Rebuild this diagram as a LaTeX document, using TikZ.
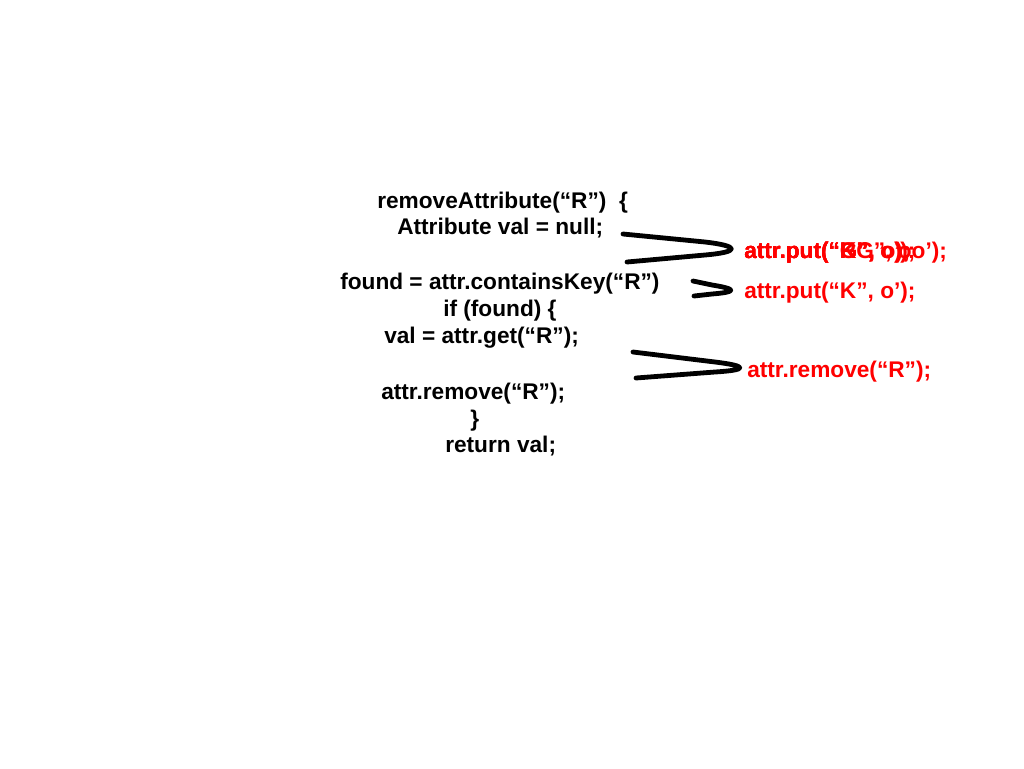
\documentclass[tikz,border=0pt]{standalone}
\usepackage{fontspec}
\setmainfont{Liberation Sans}
\usepackage{xcolor}
\tikzset{code/.style={font=\fontsize{17}{20}\selectfont\bfseries,inner sep=0pt,anchor=base west},
  newcode/.style={code,text=red},
  pinch/.style={line width=3.6pt,line cap=round,line join=round}}

\begin{document}
\begin{tikzpicture}[x=0.75pt,y=-0.75pt]
\useasboundingbox (0,0) rectangle (1024,768);
\node[code] (l1) at (377,208) {removeAttribute(“R”) \ \{};
\node[code] (l2) at (397,234) {Attribute val = null;};
\node[code] (l3) at (340,289) {found = attr.containsKey(“R”)};
\node[code] (l4) at (443,316) {if (found) \{};
\node[code] (l5) at (384,343) {val = attr.get(“R”);};
\node[code] (l6) at (381,399) {attr.remove(“R”);};
\node[code] (l7) at (470,426) {\}};
\node[code] (l8) at (445,452) {return val;};
\node[newcode] (p1) at (744,258) {attr.put(“R”, o);};
\node[newcode] (p2) at (744,258) {attr.put(“G”, o);};
\node[newcode] (p3) at (744,258) {attr.put(“K”, o’);};
\node[newcode] (p4) at (744,258) {attr.put(“KG”, oo’);};
\node[newcode] (p5) at (744,298) {attr.put(“K”, o’);};
\node[newcode] (p6) at (747,377) {attr.remove(“R”);};
\draw[pinch] (623,234) -- (705,242) .. controls (740,246) and (740,252) .. (705,255) -- (627,262);
\draw[pinch] (693,281) -- (712,285) .. controls (737,289) and (737,292) .. (712,294) -- (694,296);
\draw[pinch] (633,352) -- (715,362) .. controls (748,366) and (748,370) .. (715,372) -- (636,378);
\end{tikzpicture}
\end{document}
